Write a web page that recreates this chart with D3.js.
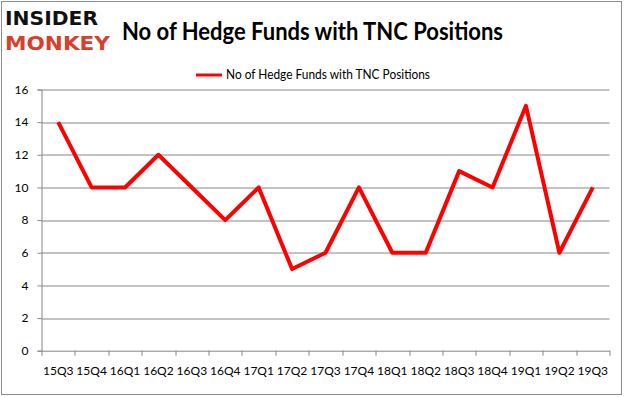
<!DOCTYPE html>
<html>
<head>
<meta charset="utf-8">
<script src="https://cdn.jsdelivr.net/npm/d3@7"></script>
<style>
  body { margin: 0; background: #fff; }
  svg { display: block; font-family: Lato, "Open Sans", sans-serif; }
</style>
</head>
<body>
<div id="chart-area"></div>
<script>
// data
var quarters = ["15Q3", "15Q4", "16Q1", "16Q2", "16Q3", "16Q4", "17Q1", "17Q2", "17Q3",
                "17Q4", "18Q1", "18Q2", "18Q3", "18Q4", "19Q1", "19Q2", "19Q3"]
var funds = [14, 10, 10, 12, 10, 8, 10, 5, 6, 10, 6, 6, 11, 10, 15, 6, 10]
var yTicks = [0, 2, 4, 6, 8, 10, 12, 14, 16]
var seriesName = "No of Hedge Funds with TNC Positions"

var W = 626, H = 397
var margin = { left: 41.5, right: 16.5, top: 89.5, bottom: 46.3 }
var width = W - margin.left - margin.right,
    height = H - margin.top - margin.bottom

var svg = d3.select("#chart-area").append("svg")
    .attr("width", W)
    .attr("height", H)

// outer frame
svg.append("rect")
  .attr("x", 1.5).attr("y", 1.5)
  .attr("width", 620).attr("height", 393)
  .attr("fill", "none")
  .attr("stroke", "#8c8c8c")
  .attr("stroke-width", 1)

// logo
svg.append("text")
  .attr("x", 5).attr("y", 25)
  .attr("font-family", "'DejaVu Sans', sans-serif")
  .attr("font-weight", "bold")
  .attr("font-size", "19px")
  .attr("textLength", 93)
  .attr("lengthAdjust", "spacingAndGlyphs")
  .attr("fill", "#111")
  .text("INSIDER")

svg.append("text")
  .attr("x", 5).attr("y", 50)
  .attr("font-family", "'DejaVu Sans', sans-serif")
  .attr("font-weight", "bold")
  .attr("font-size", "20px")
  .attr("textLength", 105)
  .attr("lengthAdjust", "spacingAndGlyphs")
  .attr("fill", "#d8402c")
  .text("MONKEY")

// title
svg.append("text")
  .attr("x", 122).attr("y", 40)
  .attr("font-weight", "bold")
  .attr("font-size", "25px")
  .attr("textLength", 381)
  .attr("lengthAdjust", "spacingAndGlyphs")
  .attr("fill", "#000")
  .text(seriesName)

// legend
svg.append("line")
  .attr("x1", 196).attr("x2", 222)
  .attr("y1", 75).attr("y2", 75)
  .attr("stroke", "#ff0000")
  .attr("stroke-width", 3)

svg.append("text")
  .attr("x", 226).attr("y", 79)
  .attr("font-size", "12.5px")
  .attr("textLength", 204)
  .attr("lengthAdjust", "spacingAndGlyphs")
  .attr("fill", "#000")
  .text(seriesName)

var g = svg.append("g")
    .attr("transform", "translate(" + margin.left + "," + margin.top + ")")

var x = d3.scaleBand()
  .domain(quarters)
  .range([0, width])

var y = d3.scaleLinear()
  .domain([0, 16])
  .range([height, 0])

// gridlines
g.selectAll(".grid")
  .data(yTicks.filter(function(d) { return d > 0 }))
  .enter().append("line")
    .attr("class", "grid")
    .attr("x1", 0).attr("x2", width)
    .attr("y1", function(d) { return Math.round(y(d)) + 0.5 })
    .attr("y2", function(d) { return Math.round(y(d)) + 0.5 })
    .attr("stroke", "#868686")
    .attr("stroke-width", 1)

// y axis
var yAxisCall = d3.axisLeft(y)
  .tickValues(yTicks)
  .tickSize(4)
  .tickPadding(9)

var yAxisGroup = g.append("g")
  .attr("class", "y axis")
  .call(yAxisCall)

// x axis, ticks on category boundaries
var xAxisGroup = g.append("g")
  .attr("class", "x axis")
  .attr("transform", "translate(0," + height + ")")
  .call(d3.axisBottom(x).tickSize(0).tickPadding(16))

xAxisGroup.selectAll(".bound")
  .data(quarters.concat(["end"]))
  .enter().append("line")
    .attr("class", "bound")
    .attr("x1", function(d, i) { return Math.round(i * x.step()) + 0.5 })
    .attr("x2", function(d, i) { return Math.round(i * x.step()) + 0.5 })
    .attr("y1", 0).attr("y2", 5)
    .attr("stroke", "#868686")

g.selectAll(".axis path").attr("stroke", "#868686")
g.selectAll(".axis line").attr("stroke", "#868686")
g.selectAll(".axis text")
  .attr("font-family", "Lato, 'Open Sans', sans-serif")
  .attr("font-size", "12px")
  .attr("fill", "#000")

// line
var line = d3.line()
  .x(function(d, i) { return x(quarters[i]) + x.bandwidth() / 2 })
  .y(function(d) { return y(d) })

g.append("path")
  .datum(funds)
  .attr("d", line)
  .attr("fill", "none")
  .attr("stroke", "#ff0000")
  .attr("stroke-width", 4)
  .attr("stroke-linejoin", "round")
</script>
</body>
</html>
